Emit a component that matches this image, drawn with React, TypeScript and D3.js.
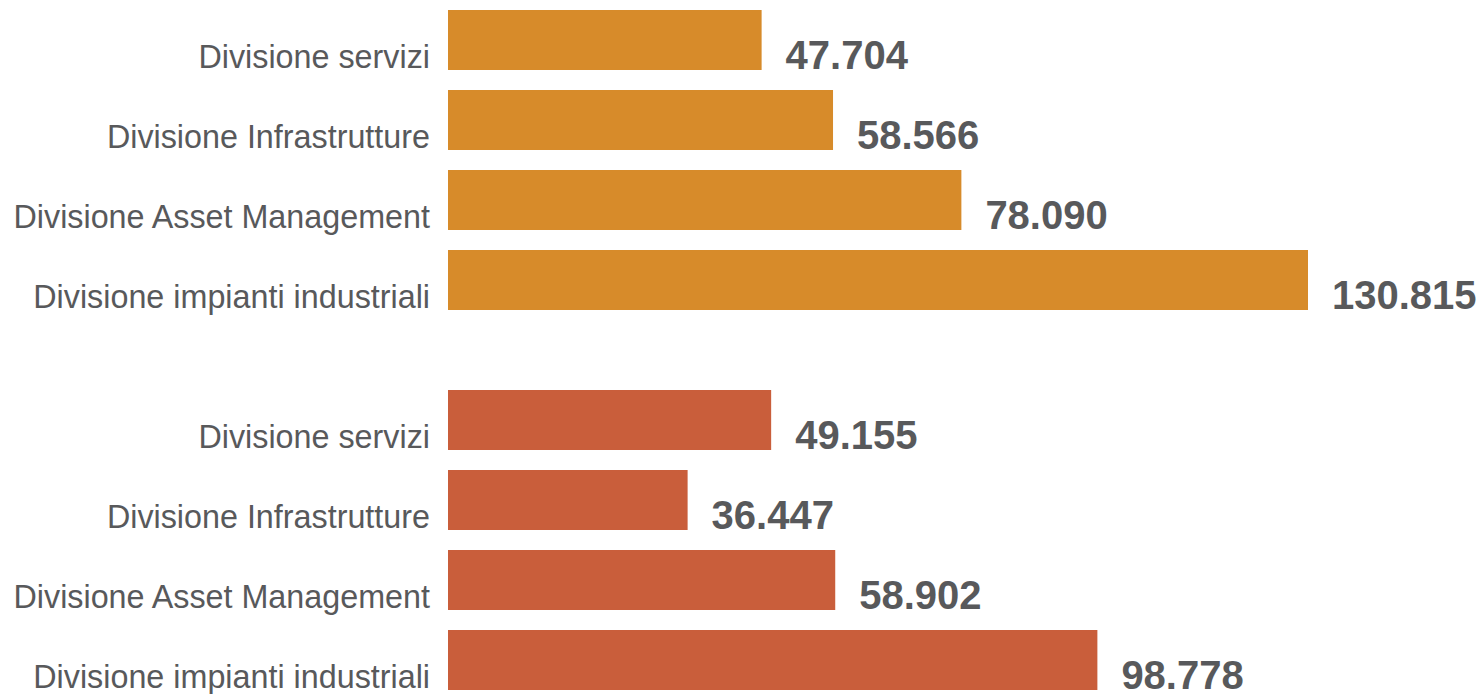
import React from "react";
import * as d3 from "d3";

const categories = [
  "Divisione servizi",
  "Divisione Infrastrutture",
  "Divisione Asset Management",
  "Divisione impianti industriali",
];
const seriesTop = [47704, 58566, 78090, 130815];
const seriesBottom = [49155, 36447, 58902, 98778];

const W = 1484;
const H = 694;
const COLOR_TOP = "#D78B2A";
const COLOR_BOTTOM = "#C95E3B";
const TEXT = "#58595B";

const locale = d3.formatLocale({ decimal: ",", thousands: ".", grouping: [3], currency: ["€", ""] });
const fmt = locale.format(",d");

export default function App() {
  const x = d3.scaleLinear().domain([0, 130815]).range([448, 1308]);
  const yTop = d3.scaleBand<string>().domain(categories).range([0, 320]).paddingInner(0.25).paddingOuter(0.125);
  const yBottom = d3.scaleBand<string>().domain(categories).range([380, 700]).paddingInner(0.25).paddingOuter(0.125);

  const groups = [
    { values: seriesTop, y: yTop, color: COLOR_TOP },
    { values: seriesBottom, y: yBottom, color: COLOR_BOTTOM },
  ];

  return (
    <svg
      width={W}
      height={H}
      viewBox={`0 0 ${W} ${H}`}
      style={{ position: "absolute", left: 0, top: 0, background: "#fff" }}
    >
      {groups.map((g, gi) => (
        <g key={gi}>
          {categories.map((c, i) => {
            const y0 = g.y(c) as number;
            const bh = g.y.bandwidth();
            const v = g.values[i];
            return (
              <g key={c}>
                <text
                  x={430}
                  y={y0 + bh - 2}
                  textAnchor="end"
                  fontFamily="'Liberation Sans', Arial, sans-serif"
                  fontSize={32.3}
                  fill={TEXT}
                >
                  {c}
                </text>
                <rect x={x(0)} y={y0} width={x(v) - x(0)} height={bh} fill={g.color} />
                <text
                  x={x(v) + 24}
                  y={y0 + bh - 1}
                  fontFamily="'Liberation Sans', Arial, sans-serif"
                  fontWeight="bold"
                  fontSize={40}
                  fill={TEXT}
                >
                  {fmt(v)}
                </text>
              </g>
            );
          })}
        </g>
      ))}
    </svg>
  );
}
